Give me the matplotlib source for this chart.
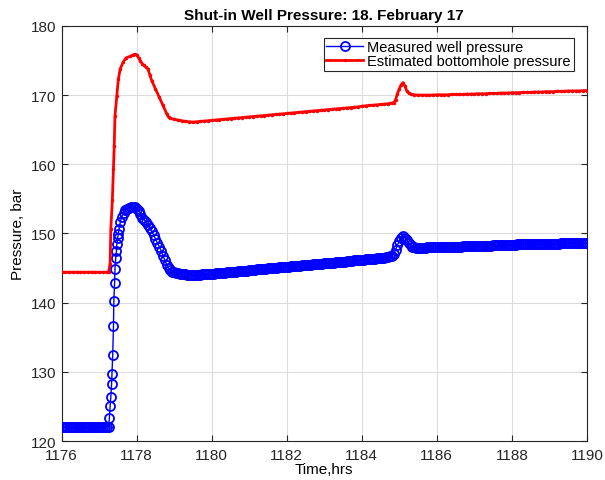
import numpy as np
import matplotlib
matplotlib.use("Agg")
import matplotlib.pyplot as plt

plt.rcParams['font.family'] = ['Liberation Sans', 'DejaVu Sans']

# ---------------- data ----------------
# Measured well pressure (blue)
blue_flat_t = np.round(np.arange(1176.00, 1177.251, 0.05), 2)
blue_flat_p = [122.1, 122.1, 122.0, 122.1, 122.1, 122.1, 122.0, 122.1, 122.1, 122.0,
               122.0, 122.1, 122.1, 122.0, 122.0, 122.1, 122.0, 122.0, 122.1, 122.0,
               122.0, 122.1, 122.1, 122.0, 122.1, 122.1]
blue_rise_t = [1177.27, 1177.29, 1177.31, 1177.33, 1177.34, 1177.36, 1177.38, 1177.39,
               1177.41, 1177.42, 1177.44, 1177.46, 1177.47, 1177.49, 1177.51, 1177.53,
               1177.56, 1177.60, 1177.65, 1177.70, 1177.75, 1177.80, 1177.85, 1177.90,
               1177.95, 1178.00]
blue_rise_p = [123.3, 125.0, 126.4, 128.3, 129.7, 132.5, 136.7, 140.2,
               142.9, 144.9, 146.4, 147.5, 148.5, 149.3, 149.9, 150.7,
               151.6, 152.4, 153.0, 153.4, 153.6, 153.7, 153.8, 153.8,
               153.8, 153.6]
blue_slow_t = np.round(np.arange(1178.05, 1190.001, 0.05), 2)
blue_slow_p = [
    # 1178.05 - 1179.00
    153.3, 152.8, 152.3, 152.0, 151.6, 151.2, 150.8, 150.3, 149.8, 149.2,
    148.6, 148.1, 147.5, 146.8, 146.1, 145.5, 145.0, 144.7, 144.5, 144.4,
    # 1179.05 - 1180.00
    144.3, 144.25, 144.2, 144.15, 144.1, 144.1, 144.05, 144.0, 144.0, 144.0,
    144.0, 144.0, 144.05, 144.05, 144.1, 144.1, 144.1, 144.15, 144.15, 144.2,
    # 1180.05 - 1181.00
    144.2, 144.25, 144.25, 144.3, 144.3, 144.35, 144.35, 144.4, 144.4, 144.45,
    144.45, 144.5, 144.5, 144.55, 144.55, 144.6, 144.6, 144.65, 144.65, 144.7,
    # 1181.05 - 1182.00
    144.7, 144.75, 144.75, 144.8, 144.8, 144.85, 144.85, 144.9, 144.9, 144.95,
    144.95, 145.0, 145.0, 145.05, 145.05, 145.1, 145.1, 145.15, 145.15, 145.2,
    # 1182.05 - 1183.00
    145.2, 145.25, 145.25, 145.3, 145.3, 145.35, 145.35, 145.4, 145.4, 145.45,
    145.45, 145.5, 145.5, 145.55, 145.55, 145.6, 145.6, 145.65, 145.65, 145.7,
    # 1183.05 - 1184.00
    145.7, 145.75, 145.75, 145.8, 145.8, 145.85, 145.85, 145.9, 145.9, 145.95,
    145.95, 146.0, 146.0, 146.05, 146.05, 146.1, 146.1, 146.15, 146.15, 146.2,
    # 1184.05 - 1184.70
    146.2, 146.25, 146.25, 146.3, 146.3, 146.35, 146.35, 146.4, 146.4, 146.45,
    146.45, 146.5, 146.55, 146.6,
    # 1184.75 - 1185.40 (bump)
    146.7, 146.8, 147.0, 147.6, 148.3, 148.9, 149.4, 149.6, 149.4, 149.0,
    148.6, 148.3, 148.1, 148.0,
    # 1185.45 - 1186.00
    147.95, 147.95, 147.95, 147.95, 147.95, 147.95, 148.0, 148.0, 148.0, 148.0,
    148.0, 148.0,
    # 1186.05 - 1187.00
    148.0, 148.0, 148.05, 148.05, 148.05, 148.05, 148.1, 148.1, 148.1, 148.1,
    148.1, 148.1, 148.1, 148.15, 148.15, 148.15, 148.15, 148.15, 148.15, 148.2,
    # 1187.05 - 1188.00
    148.2, 148.2, 148.2, 148.2, 148.25, 148.25, 148.25, 148.25, 148.25, 148.3,
    148.3, 148.3, 148.3, 148.3, 148.35, 148.35, 148.35, 148.35, 148.4, 148.4,
    # 1188.05 - 1189.00
    148.4, 148.4, 148.45, 148.45, 148.45, 148.45, 148.45, 148.5, 148.5, 148.5,
    148.5, 148.5, 148.5, 148.5, 148.5, 148.5, 148.55, 148.55, 148.55, 148.55,
    # 1189.05 - 1190.00
    148.55, 148.55, 148.55, 148.55, 148.55, 148.6, 148.6, 148.6, 148.6, 148.6,
    148.6, 148.6, 148.6, 148.6, 148.6, 148.6, 148.6, 148.6, 148.6, 148.6,
]

# Estimated bottomhole pressure (red)
red_flat_t = np.round(np.arange(1176.0, 1177.201, 0.1), 2)
red_flat_p = [144.4, 144.4, 144.4, 144.4, 144.4, 144.4, 144.4, 144.4, 144.4, 144.4,
              144.4, 144.4, 144.4]
red_rise_t = [1177.25, 1177.29, 1177.31, 1177.35, 1177.38, 1177.40, 1177.42, 1177.47,
              1177.51, 1177.56, 1177.64, 1177.72, 1177.82, 1177.90, 1177.95, 1178.00,
              1178.05, 1178.10, 1178.15, 1178.20, 1178.25, 1178.30, 1178.35, 1178.40,
              1178.50, 1178.60, 1178.70, 1178.80, 1178.85, 1178.90]
red_rise_p = [144.4, 145.6, 150.7, 154.8, 159.3, 162.7, 167.0, 169.9,
              172.3, 173.8, 174.8, 175.4, 175.6, 175.8, 175.9, 175.8,
              175.4, 174.9, 174.5, 174.3, 174.0, 173.8, 172.9, 172.1,
              170.9, 169.7, 168.5, 167.3, 166.8, 166.65]
red_mid_t = np.round(np.arange(1179.0, 1184.801, 0.1), 2)
red_mid_p = [
    166.5, 166.4, 166.3, 166.2, 166.15, 166.1, 166.15, 166.2, 166.25, 166.3, 166.35,
    166.4, 166.45, 166.5, 166.55, 166.6, 166.65, 166.7, 166.75, 166.8, 166.85,
    166.9, 166.95, 167.0, 167.05, 167.1, 167.15, 167.2, 167.25, 167.3, 167.35,
    167.4, 167.45, 167.5, 167.55, 167.6, 167.65, 167.7, 167.75, 167.8, 167.85,
    167.9, 167.95, 168.0, 168.05, 168.1, 168.15, 168.2, 168.25, 168.3, 168.4,
    168.45, 168.5, 168.55, 168.6, 168.65, 168.7, 168.75, 168.85,
]
red_bump_t = [1184.85, 1184.90, 1184.95, 1185.00, 1185.05, 1185.10, 1185.15, 1185.20,
              1185.25, 1185.30, 1185.40, 1185.50]
red_bump_p = [168.9, 169.3, 170.2, 170.9, 171.5, 171.8, 171.3, 170.6,
              170.3, 170.15, 170.05, 170.0]
red_end_t = np.round(np.arange(1185.6, 1190.001, 0.1), 2)
red_end_p = [
    170.0, 170.0, 170.0, 170.0, 170.05,
    170.05, 170.05, 170.05, 170.1, 170.1, 170.1, 170.1, 170.15, 170.15, 170.15,
    170.2, 170.2, 170.2, 170.25, 170.25, 170.25, 170.3, 170.3, 170.3, 170.35,
    170.35, 170.35, 170.4, 170.4, 170.4, 170.45, 170.45, 170.45, 170.5, 170.5,
    170.5, 170.55, 170.55, 170.55, 170.6, 170.6, 170.6, 170.6, 170.65, 170.65,
]

blue_t = np.concatenate([blue_flat_t, blue_rise_t, blue_slow_t])
blue_p = np.concatenate([blue_flat_p, blue_rise_p, blue_slow_p])
red_t = np.concatenate([red_flat_t, red_rise_t, red_mid_t, red_bump_t, red_end_t])
red_p = np.concatenate([red_flat_p, red_rise_p, red_mid_p, red_bump_p, red_end_p])

title = "Shut-in Well Pressure: 18. February 17"
xlabel = "Time,hrs"
ylabel = "Pressure, bar"
labels = ["Measured well pressure", "Estimated bottomhole pressure"]
xticks = [1176, 1178, 1180, 1182, 1184, 1186, 1188, 1190]
yticks = [120, 130, 140, 150, 160, 170, 180]

# ---------------- plot ----------------
fig = plt.figure(figsize=(6.05, 4.81), dpi=100)
ax = fig.add_axes([0.102, 0.081, 0.868, 0.863])

ax.plot(blue_t, blue_p, color=(0, 0, 1), lw=1.0, marker='o', ms=6.5,
        mfc='none', mec=(0, 0, 1), mew=1.3, label=labels[0], zorder=3)
ax.plot(red_t, red_p, color=(1, 0, 0), lw=2.0, marker='.', ms=3,
        label=labels[1], zorder=4)

ax.set_xlim(1176, 1190)
ax.set_ylim(120, 180)
ax.set_xticks(xticks)
ax.set_yticks(yticks)
ax.grid(True, color='#dcdcdc', lw=0.8)
ax.set_axisbelow(True)
ax.tick_params(direction='in', top=True, right=True, length=4, width=0.8,
               labelsize=11, colors='#262626')
ax.tick_params(axis='x', pad=5)
ax.tick_params(axis='y', pad=4)
for s in ax.spines.values():
    s.set_color('#262626')
    s.set_linewidth(0.8)

ax.set_title(title, fontsize=11, fontweight='bold', pad=5)
ax.set_xlabel(xlabel, fontsize=11, labelpad=0)
ax.set_ylabel(ylabel, fontsize=11, labelpad=4)

leg = ax.legend(loc='upper right', bbox_to_anchor=(0.975, 0.972), fontsize=10.5,
                handlelength=2.5, handletextpad=0.3, borderpad=0.2,
                labelspacing=0.0, borderaxespad=0.0, fancybox=False,
                framealpha=1, edgecolor='#262626')
leg.get_frame().set_linewidth(0.8)

fig.savefig("out.png", dpi=100)
